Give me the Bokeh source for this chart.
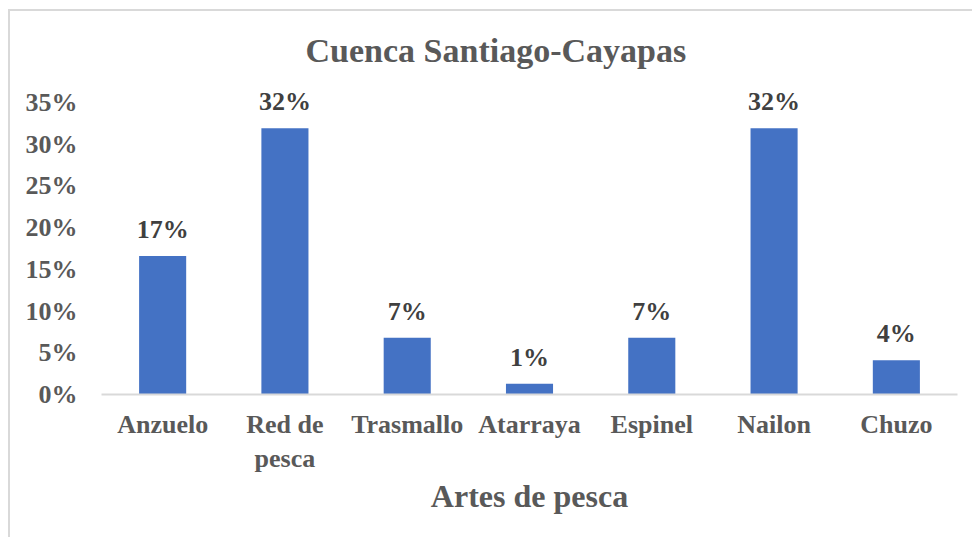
from bokeh.plotting import figure
from bokeh.models import (ColumnDataSource, FactorRange, Range1d, FixedTicker,
                          NumeralTickFormatter, LabelSet, Label)
from bokeh.embed import file_html
from bokeh.resources import INLINE

title_text = "Cuenca Santiago-Cayapas"
x_title = "Artes de pesca"
categories = ["Anzuelo", "Red de\npesca", "Trasmallo", "Atarraya", "Espinel", "Nailon", "Chuzo"]
shares = [0.166, 0.319, 0.068, 0.013, 0.068, 0.319, 0.041]
share_labels = ["17%", "32%", "7%", "1%", "7%", "32%", "4%"]
y_ticks = [0, 0.05, 0.10, 0.15, 0.20, 0.25, 0.30, 0.35]

FONT = "Liberation Serif"
GRAY = "#595959"

# layout (pixels): frame from canvas y=5 down to y=383; 0.35 spans 292 px
TOP, BOTTOM_BORDER, H = 5, 145, 528
frame_h = H - TOP - BOTTOM_BORDER
y_end = 0.35 * frame_h / 292.0

src = ColumnDataSource(dict(cat=categories, val=shares, lab=share_labels))

p = figure(
    width=964, height=H,
    x_range=FactorRange(*categories, range_padding=0),
    y_range=Range1d(0, y_end),
    output_backend="svg", toolbar_location=None,
    min_border_left=91, min_border_right=17, min_border_top=TOP, min_border_bottom=BOTTOM_BORDER,
)
p.styles = {"border-top": "2px solid #D9D9D9", "border-left": "2px solid #D9D9D9",
            "margin-left": "8px", "margin-top": "9px"}
p.outline_line_color = None
p.background_fill_color = "white"
p.border_fill_color = "white"

p.vbar(x="cat", top="val", width=0.385, source=src, color="#4472C4", line_color=None)
labels = LabelSet(x="cat", y="val", text="lab", source=src, y_offset=18,
                  text_align="center", text_baseline="alphabetic",
                  text_font=FONT, text_font_size="26px", text_font_style="bold",
                  text_color="#404040")
p.add_layout(labels)

title = Label(x=3.225, y=0.35 * (394 - 50) / 292.0, text=title_text,
              text_align="center", text_baseline="alphabetic",
              text_font=FONT, text_font_size="34px", text_font_style="bold",
              text_color=GRAY)
p.add_layout(title)

p.xgrid.grid_line_color = None
p.ygrid.grid_line_color = None

xa = p.xaxis[0]
xa.axis_line_color = "#D9D9D9"
xa.axis_line_width = 2
xa.major_tick_line_color = None
xa.minor_tick_line_color = None
xa.major_tick_out = 0
xa.major_tick_in = 0
xa.major_label_standoff = 15
xa.major_label_text_font = FONT
xa.major_label_text_font_size = "26px"
xa.major_label_text_font_style = "bold"
xa.major_label_text_color = GRAY
xa.axis_label = x_title
xa.axis_label_text_font = FONT
xa.axis_label_text_font_size = "32px"
xa.axis_label_text_font_style = "bold"
xa.axis_label_text_color = GRAY
xa.axis_label_standoff = 2

ya = p.yaxis[0]
ya.axis_line_color = None
ya.major_tick_line_color = None
ya.minor_tick_line_color = None
ya.major_tick_out = 0
ya.major_tick_in = 0
ya.ticker = FixedTicker(ticks=y_ticks)
ya.formatter = NumeralTickFormatter(format="0%")
ya.major_label_standoff = 24
ya.major_label_text_font = FONT
ya.major_label_text_font_size = "26px"
ya.major_label_text_font_style = "bold"
ya.major_label_text_color = GRAY

open("out.html", "w").write(file_html(p, INLINE))
